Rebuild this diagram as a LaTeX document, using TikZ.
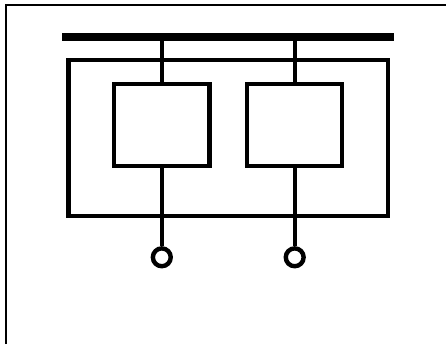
\documentclass[tikz,border=0pt]{standalone}
\tikzset{
  px/.style={x=0.75pt,y=-0.75pt},
  wire/.style={line width=3.2pt,draw=black},
  busbar/.style={draw=none,fill=black,minimum width=249.4pt,minimum height=5.8pt,inner sep=0pt,outer sep=0pt},
  unitbox/.style={draw=black,line width=3.25pt,fill=none,minimum width=71.3pt,minimum height=61.3pt,inner sep=0pt,outer sep=0pt},
  frame/.style={draw=black,line width=3.25pt,fill=none,minimum width=239.6pt,minimum height=116.9pt,inner sep=0pt,outer sep=0pt},
  term/.style={circle,draw=black,line width=3.3pt,fill=white,minimum size=13.4pt,inner sep=0pt,outer sep=1.65pt},
  border/.style={line width=1.6pt,draw=black}
}
\begin{document}
\begin{tikzpicture}[px]
\useasboundingbox (0,0) rectangle (446,344);
\fill[white] (0,0) rectangle (446,344);
\coordinate (bl) at (6,344);
\coordinate (tl) at (6,5);
\coordinate (tr) at (446,5);
\draw[border] (bl) -- (tl) -- (tr);
\node[busbar] (bus) at (228.2,36.8) {};
\node[frame] (outer) at (228.2,138) {};
\node[unitbox] (a) at (161.8,124.8) {};
\node[unitbox] (b) at (294.7,124.8) {};
\node[term] (ta) at (161.8,257.3) {};
\node[term] (tb) at (294.7,257.3) {};
\draw[wire] (a.north |- bus.south) -- (a.north);
\draw[wire] (b.north |- bus.south) -- (b.north);
\draw[wire] (a.south) -- (ta);
\draw[wire] (b.south) -- (tb);
\end{tikzpicture}
\end{document}
